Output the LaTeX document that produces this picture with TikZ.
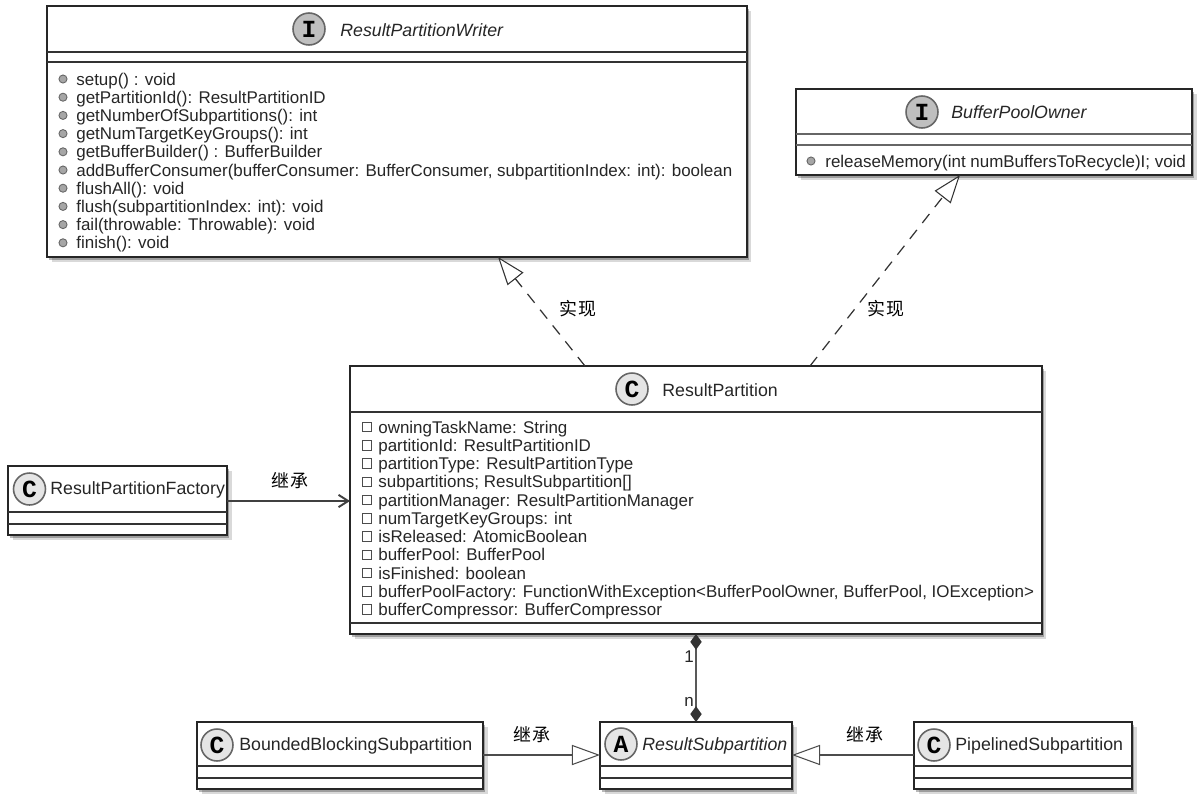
\documentclass[tikz,border=0pt]{standalone}
\usepackage{fontspec}
\setmainfont{Liberation Sans}
\newfontfamily\cjk[LetterSpace=8]{Noto Sans CJK SC}
\newfontfamily\iconfont{Liberation Mono}
\usetikzlibrary{shadows,calc,arrows.meta}
\tikzset{
    umlbox/.style={draw=black!85, line width=1.1pt, fill=white, rectangle, inner sep=0, outer sep=0, anchor=north west,
        drop shadow={shadow xshift=2.6pt, shadow yshift=-3pt, opacity=.15, fill=black},
        drop shadow={shadow xshift=1.4pt, shadow yshift=-1.8pt, opacity=.28, fill=black}},
    sepline/.style={draw=black!80, line width=1pt},
    icon/.style={circle, draw=black!60, line width=.9pt, minimum size=18.2pt, inner sep=0, text=black, font=\iconfont\bfseries\fontsize{14}{14}\selectfont},
    ifaceicon/.style={icon, fill=black!25},
    classicon/.style={icon, fill=black!10},
    nametext/.style={anchor=west, inner sep=0, text=black!85, font=\fontsize{10.1}{12}\selectfont},
    rowtext/.style={anchor=base west, inner sep=0, text=black!85, font=\fontsize{9.65}{12}\selectfont},
    methodmark/.style={circle, draw=black!60, fill=black!35, line width=.5pt, minimum size=4.6pt, inner sep=0},
    fieldmark/.style={rectangle, draw=black!70, fill=white, line width=.5pt, minimum size=5.4pt, inner sep=0},
    cnlabel/.style={inner sep=0, text=black, font=\cjk\fontsize{10.2}{12}\selectfont},
    realize/.style={draw=black!80, line width=.7pt, dash pattern=on 6.5pt off 5pt, -{Triangle[open, fill=white, length=16pt, width=11.5pt, line width=.6pt]}},
    inherit/.style={draw=black!70, line width=.9pt, -{Triangle[open, fill=white, length=16pt, width=11.5pt, line width=.6pt]}},
    assoc/.style={draw=black!75, line width=.9pt, -{Straight Barb[length=5.5pt, width=7pt, line width=1.1pt]}},
    compose/.style={draw=black!65, line width=.9pt, {Diamond[length=9pt, width=6.5pt, black!80]}-{Diamond[length=9pt, width=6.5pt, black!80]}},
}
\begin{document}
\begin{tikzpicture}[x=0.02cm, y=-0.02cm]
    \useasboundingbox (0,0) rectangle (1204,802);

    % ResultPartitionWriter
    \node[umlbox, minimum width=14cm, minimum height=5.02cm] (rpw) at (47,6) {};
    \draw[sepline] ($(rpw.north west)+(0,46)$) -- ($(rpw.north east)+(0,46)$);
    \draw[sepline] ($(rpw.north west)+(0,56)$) -- ($(rpw.north east)+(0,56)$);
    \node[ifaceicon] (rpwicon) at (309,29) {I};
    \node[nametext, font=\fontsize{10.1}{12}\itshape] (rpwname) at (340,30) {ResultPartitionWriter};
    \foreach \t [count=\i] in {{setup() : void}, {getPartitionId(): ResultPartitionID}, {getNumberOfSubpartitions(): int},
        {getNumTargetKeyGroups(): int}, {getBufferBuilder() : BufferBuilder},
        {addBufferConsumer(bufferConsumer: BufferConsumer, subpartitionIndex: int): boolean},
        {flushAll(): void}, {flush(subpartitionIndex: int): void}, {fail(throwable: Throwable): void}, {finish(): void}}
    {
        \node[methodmark] (rpwmark\i) at (63,{79+18.2*(\i-1)}) {};
        \node[rowtext] (rpwrow\i) at (76,{85+18.2*(\i-1)}) {\t};
    }

    % BufferPoolOwner
    \node[umlbox, minimum width=7.92cm, minimum height=1.72cm] (bpo) at (796,89) {};
    \draw[sepline, draw=black!60] ($(bpo.north west)+(0,45)$) -- ($(bpo.north east)+(0,45)$);
    \draw[sepline, draw=black!60] ($(bpo.north west)+(0,56)$) -- ($(bpo.north east)+(0,56)$);
    \node[ifaceicon] (bpoicon) at (922,112) {I};
    \node[nametext, font=\fontsize{10.1}{12}\itshape] (bponame) at (951,112) {BufferPoolOwner};
    \node[methodmark] (bpomark) at (811,161) {};
    \node[rowtext] (bporow) at (825,167) {releaseMemory(int numBuffersToRecycle)I; void};

    % ResultPartition
    \node[umlbox, minimum width=13.84cm, minimum height=5.36cm] (rp) at (350,366) {};
    \draw[sepline] ($(rp.north west)+(0,46)$) -- ($(rp.north east)+(0,46)$);
    \draw[sepline] ($(rp.north west)+(0,257)$) -- ($(rp.north east)+(0,257)$);
    \node[classicon] (rpicon) at (632,389) {C};
    \node[nametext] (rpname) at (662,390) {ResultPartition};
    \foreach \t [count=\i] in {{owningTaskName: String}, {partitionId: ResultPartitionID}, {partitionType: ResultPartitionType},
        {subpartitions; ResultSubpartition[]}, {partitionManager: ResultPartitionManager}, {numTargetKeyGroups: int},
        {isReleased: AtomicBoolean}, {bufferPool: BufferPool}, {isFinished: boolean},
        {bufferPoolFactory: FunctionWithException<BufferPoolOwner, BufferPool, IOException>},
        {bufferCompressor: BufferCompressor}}
    {
        \node[fieldmark] (rpmark\i) at (367,{427+18.25*(\i-1)}) {};
        \node[rowtext] (rprow\i) at (378,{433+18.25*(\i-1)}) {\t};
    }

    % ResultPartitionFactory
    \node[umlbox, minimum width=4.38cm, minimum height=1.38cm] (rpf) at (8,466) {};
    \draw[sepline] ($(rpf.north west)+(0,46)$) -- ($(rpf.north east)+(0,46)$);
    \draw[sepline] ($(rpf.north west)+(0,58)$) -- ($(rpf.north east)+(0,58)$);
    \node[classicon] (rpficon) at (29.5,489) {C};
    \node[nametext] (rpfname) at (50,490) {ResultPartitionFactory};

    % ResultSubpartition
    \node[umlbox, minimum width=3.84cm, minimum height=1.34cm] (rs) at (600,722) {};
    \draw[sepline] ($(rs.north west)+(0,44)$) -- ($(rs.north east)+(0,44)$);
    \draw[sepline] ($(rs.north west)+(0,56)$) -- ($(rs.north east)+(0,56)$);
    \node[classicon] (rsicon) at (621,744) {A};
    \node[nametext, font=\fontsize{10.1}{12}\itshape] (rsname) at (642,746) {ResultSubpartition};

    % BoundedBlockingSubpartition
    \node[umlbox, minimum width=5.72cm, minimum height=1.34cm] (bbs) at (197,722) {};
    \draw[sepline] ($(bbs.north west)+(0,44)$) -- ($(bbs.north east)+(0,44)$);
    \draw[sepline] ($(bbs.north west)+(0,56)$) -- ($(bbs.north east)+(0,56)$);
    \node[classicon] (bbsicon) at (217,745) {C};
    \node[nametext] (bbsname) at (239,746) {BoundedBlockingSubpartition};

    % PipelinedSubpartition
    \node[umlbox, minimum width=4.36cm, minimum height=1.34cm] (ps) at (914,722) {};
    \draw[sepline] ($(ps.north west)+(0,44)$) -- ($(ps.north east)+(0,44)$);
    \draw[sepline] ($(ps.north west)+(0,56)$) -- ($(ps.north east)+(0,56)$);
    \node[classicon] (psicon) at (934,745) {C};
    \node[nametext] (psname) at (955,746) {PipelinedSubpartition};

    % Connectors
    \draw[realize] ($(rp.north west)+(235,0)$) -- ($(rpw.south west)+(451,0)$);
    \draw[realize] ($(rp.north west)+(460,0)$) -- ($(bpo.south west)+(164,0)$);
    \draw[assoc] ($(rpf.north east)+(0,35)$) -- ($(rp.north west)+(0,135)$);
    \draw[compose] ($(rp.south west)+(346,0)$) -- ($(rs.north west)+(96,0)$);
    \draw[inherit] ($(bbs.north east)+(0,33)$) -- ($(rs.north west)+(0,33)$);
    \draw[inherit] ($(ps.north west)+(0,33)$) -- ($(rs.north east)+(0,33)$);

    % Labels
    \node[cnlabel] (impl1) at (578,309) {实现};
    \node[cnlabel] (impl2) at (886,309) {实现};
    \node[cnlabel] (ext1) at (290,481) {继承};
    \node[cnlabel] (ext2) at (532,735) {继承};
    \node[cnlabel] (ext3) at (865,735) {继承};
    \node[rowtext, anchor=center] (one) at (689,657) {1};
    \node[rowtext, anchor=center] (many) at (689,702) {n};
\end{tikzpicture}
\end{document}
